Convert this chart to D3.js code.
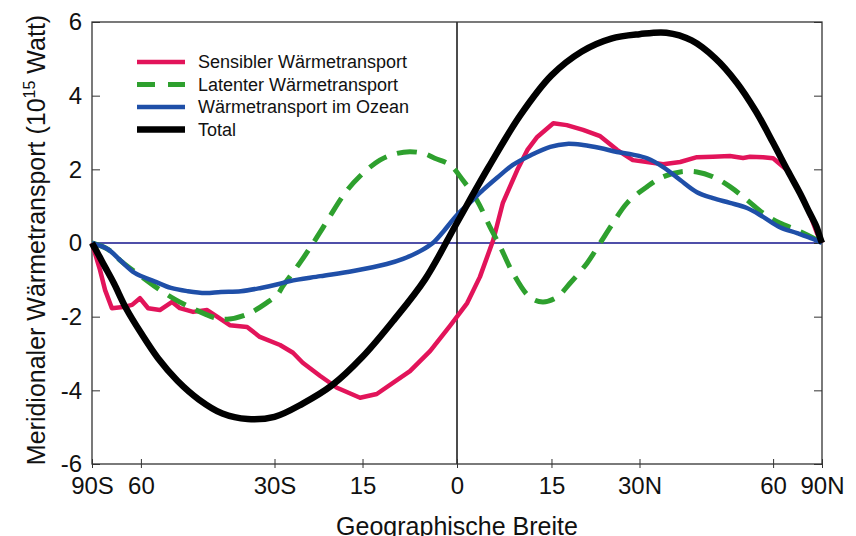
<!DOCTYPE html>
<html>
<head>
<meta charset="utf-8">
<script src="https://cdn.jsdelivr.net/npm/d3@7"></script>
<style>
  body { margin: 0; background: #fff; }
  svg { display: block; font-family: "Liberation Sans", Arial, sans-serif; }
</style>
</head>
<body>
<div class="canvas"></div>
<script>
// values: latitude in degrees, transport in 10^15 W
const xTickLats = [-90, -60, -30, -15, 0, 15, 30, 60, 90];
const xTickLabels = ['90S', '60', '30S', '15', '0', '15', '30N', '60', '90N'];
const yTicks = [-6, -4, -2, 0, 2, 4, 6];

const seriesNames = ['Sensibler Wärmetransport', 'Latenter Wärmetransport', 'Wärmetransport im Ozean', 'Total'];

const sensibleLat = [-90, -82, -78, -74.6, -71, -66.2, -62.9, -60.3, -57.8, -54.5, -51.3, -49.4, -46.3, -43.2, -41.1, -38.5, -35.1, -32.7, -29, -26.7, -25, -22, -19.2, -15.4, -12.7, -7.4, -4.2, -1.1, 0, 1.6, 3.6, 5.7, 7.2, 9.5, 11.1, 12.7, 15.3, 17.5, 20.2, 23.1, 26, 28.8, 31.4, 34.4, 37.7, 41.1, 44.5, 48.4, 51.6, 53.4, 57, 60, 64.7, 68.7, 73.5, 80.4, 90];
const sensibleVal = [0, -0.33, -0.73, -1.28, -1.77, -1.74, -1.68, -1.5, -1.77, -1.82, -1.6, -1.77, -1.87, -1.82, -2.0, -2.23, -2.28, -2.55, -2.77, -2.98, -3.25, -3.61, -3.93, -4.2, -4.1, -3.48, -2.93, -2.25, -2.0, -1.63, -0.92, 0.08, 1.08, 1.98, 2.52, 2.88, 3.25, 3.2, 3.07, 2.9, 2.53, 2.25, 2.2, 2.14, 2.2, 2.33, 2.34, 2.36, 2.31, 2.34, 2.33, 2.3, 1.98, 1.53, 0.99, 0.27, 0];

const latentLat = [-90, -73, -67, -61, -56, -50.6, -46, -41.5, -39, -35, -31.2, -29.4, -28.5, -25.5, -23.2, -22, -20.4, -17.9, -15.4, -12.2, -9.8, -7.4, -5, -3.5, -1.1, 0.9, 3.1, 5.2, 6.8, 8.8, 11.5, 13.6, 15.9, 18, 20.9, 23.1, 25.3, 27.8, 31.4, 34.4, 37.7, 41.1, 44.5, 48.4, 52.6, 57, 62.2, 68.7, 77.3, 90];
const latentVal = [0, -0.17, -0.49, -0.84, -1.17, -1.53, -1.8, -2.03, -2.07, -1.93, -1.6, -1.39, -1.17, -0.54, 0, 0.3, 0.72, 1.35, 1.82, 2.25, 2.42, 2.48, 2.42, 2.3, 2.12, 1.71, 1.17, 0.43, -0.1, -0.81, -1.47, -1.6, -1.47, -1.1, -0.54, 0, 0.54, 1.09, 1.53, 1.8, 1.93, 1.93, 1.8, 1.53, 1.17, 0.81, 0.54, 0.35, 0.14, 0];

const oceanLat = [-90, -73, -67, -62, -56, -51.6, -47.5, -43.6, -40.3, -36.3, -32.5, -29.4, -27.2, -22, -16.5, -11.1, -8.5, -5.8, -3.8, -2.2, 0, 2, 4.1, 6.3, 8.8, 11.5, 14.8, 17.5, 20.2, 23.1, 26, 28.8, 31.4, 34.4, 37.7, 41.1, 44.5, 48.4, 52.6, 57, 62.2, 68.7, 77.3, 90];
const oceanVal = [0, -0.17, -0.49, -0.81, -1.04, -1.22, -1.31, -1.36, -1.33, -1.31, -1.22, -1.12, -1.03, -0.9, -0.76, -0.57, -0.43, -0.22, 0, 0.3, 0.76, 1.09, 1.44, 1.77, 2.12, 2.37, 2.61, 2.69, 2.66, 2.58, 2.47, 2.4, 2.3, 2.06, 1.71, 1.38, 1.22, 1.09, 0.95, 0.71, 0.43, 0.27, 0.11, 0];

const totalLat = [-90, -85, -80, -75, -70, -65, -60, -55, -50, -45, -40, -35, -30, -25, -20, -15, -10, -5, 0, 5, 10, 15, 20, 25, 30, 35, 40, 45, 50, 55, 60, 65, 70, 75, 80, 85, 90];
const totalVal = [0, -0.07, -0.27, -0.62, -1.1, -1.78, -2.44, -3.13, -3.74, -4.25, -4.63, -4.78, -4.72, -4.36, -3.86, -3.09, -2.1, -0.98, 0.55, 2.07, 3.47, 4.55, 5.2, 5.55, 5.67, 5.71, 5.5, 5.02, 4.36, 3.57, 2.72, 1.96, 1.35, 0.82, 0.44, 0.1, 0];

// drawing styles, one per series
const series = [
    {name: seriesNames[0], lat: sensibleLat, val: sensibleVal, color: '#e2145a', width: 4.5, dash: null, curve: d3.curveLinear},
    {name: seriesNames[1], lat: latentLat, val: latentVal, color: '#2ea02e', width: 5, dash: '20,11', curve: d3.curveCatmullRom},
    {name: seriesNames[2], lat: oceanLat, val: oceanVal, color: '#1f4fa8', width: 4.5, dash: null, curve: d3.curveCatmullRom},
    {name: seriesNames[3], lat: totalLat, val: totalVal, color: '#000000', width: 6.5, dash: null, curve: d3.curveCatmullRom}
];

const svg = d3.select('.canvas')
    .append('svg')
        .attr('width', 856)
        .attr('height', 536);

const margin = {top: 22, bottom: 72, right: 34, left: 92};
const graphWidth = 856 - margin.left - margin.right;
const graphHeight = 536 - margin.top - margin.bottom;

const graph = svg.append('g')
    .attr('transform', `translate(${margin.left}, ${margin.top})`);

// x axis is area weighted: position goes with sin(latitude)
const sinLat = lat => Math.sin(lat * Math.PI / 180);
const x = d3.scaleLinear()
    .domain([-1, 1])
    .range([0, graphWidth]);
const y = d3.scaleLinear()
    .domain([-6, 6])
    .range([graphHeight, 0]);

// zero lines
graph.append('line')
    .attr('x1', 0).attr('x2', graphWidth)
    .attr('y1', y(0)).attr('y2', y(0))
    .attr('stroke', '#14148c')
    .attr('stroke-width', 1.6);
graph.append('line')
    .attr('x1', x(0)).attr('x2', x(0))
    .attr('y1', 0).attr('y2', graphHeight)
    .attr('stroke', '#111')
    .attr('stroke-width', 1.5);

// axes
const xAxis = d3.axisBottom(x)
    .tickValues(xTickLats.map(sinLat))
    .tickFormat((d, i) => xTickLabels[i])
    .tickSizeInner(-5)
    .tickSizeOuter(0)
    .tickPadding(13);
const yAxis = d3.axisLeft(y)
    .tickValues(yTicks)
    .tickFormat(d3.format('d'))
    .tickSizeInner(-8)
    .tickSizeOuter(0)
    .tickPadding(10);
const yAxisRight = d3.axisRight(y)
    .tickValues(yTicks)
    .tickFormat('')
    .tickSizeInner(-8)
    .tickSizeOuter(0);

const xGroup = graph.append('g')
    .attr('transform', `translate(0, ${graphHeight})`)
    .call(xAxis);
const yGroup = graph.append('g').call(yAxis);
const yRightGroup = graph.append('g')
    .attr('transform', `translate(${graphWidth}, 0)`)
    .call(yAxisRight);

xGroup.selectAll('.tick line').attr('y1', 4);
[xGroup, yGroup, yRightGroup].forEach(g => {
    g.select('.domain').remove();
    g.selectAll('.tick line').attr('stroke', '#333');
    g.selectAll('text')
        .attr('font-family', '"Liberation Sans", Arial, sans-serif')
        .attr('font-size', 24)
        .attr('fill', '#111');
});
yGroup.selectAll('text').text(d => d < 0 ? '-' + Math.abs(d) : d);

// frame
graph.append('rect')
    .attr('width', graphWidth)
    .attr('height', graphHeight)
    .attr('fill', 'none')
    .attr('stroke', '#333')
    .attr('stroke-width', 1.3);

// curves
const line = d3.line()
    .x(d => x(sinLat(d[0])))
    .y(d => y(d[1]));

series.forEach(s => {
    graph.append('path')
        .datum(s.lat.map((lat, i) => [lat, s.val[i]]))
        .attr('fill', 'none')
        .attr('stroke', s.color)
        .attr('stroke-width', s.width)
        .attr('stroke-dasharray', s.dash)
        .attr('stroke-linejoin', 'round')
        .attr('d', line.curve(s.curve));
});

// legend
const legend = svg.append('g')
    .attr('transform', 'translate(137, 62)');
const items = legend.selectAll('g')
    .data(series)
    .enter()
    .append('g')
        .attr('transform', (d, i) => `translate(0, ${i * 22.5})`);
items.append('line')
    .attr('x1', 0).attr('x2', 48)
    .attr('stroke', d => d.color)
    .attr('stroke-width', d => d.width)
    .attr('stroke-dasharray', d => d.dash ? '18,13' : null);
items.append('text')
    .attr('x', 61)
    .attr('dy', '0.36em')
    .attr('font-size', 18)
    .attr('fill', '#111')
    .text(d => d.name);

// axis titles
svg.append('text')
    .attr('x', margin.left + x(0))
    .attr('y', 535)
    .attr('text-anchor', 'middle')
    .attr('font-size', 25)
    .attr('fill', '#111')
    .text('Geographische Breite');

const yTitle = svg.append('text')
    .attr('transform', 'translate(45, 240) rotate(-90)')
    .attr('text-anchor', 'middle')
    .attr('font-size', 25)
    .attr('fill', '#111');
yTitle.append('tspan').text('Meridionaler Wärmetransport (10');
yTitle.append('tspan').attr('font-size', 16).attr('dy', -10).text('15');
yTitle.append('tspan').attr('dy', 10).text(' Watt)');
</script>
</body>
</html>
